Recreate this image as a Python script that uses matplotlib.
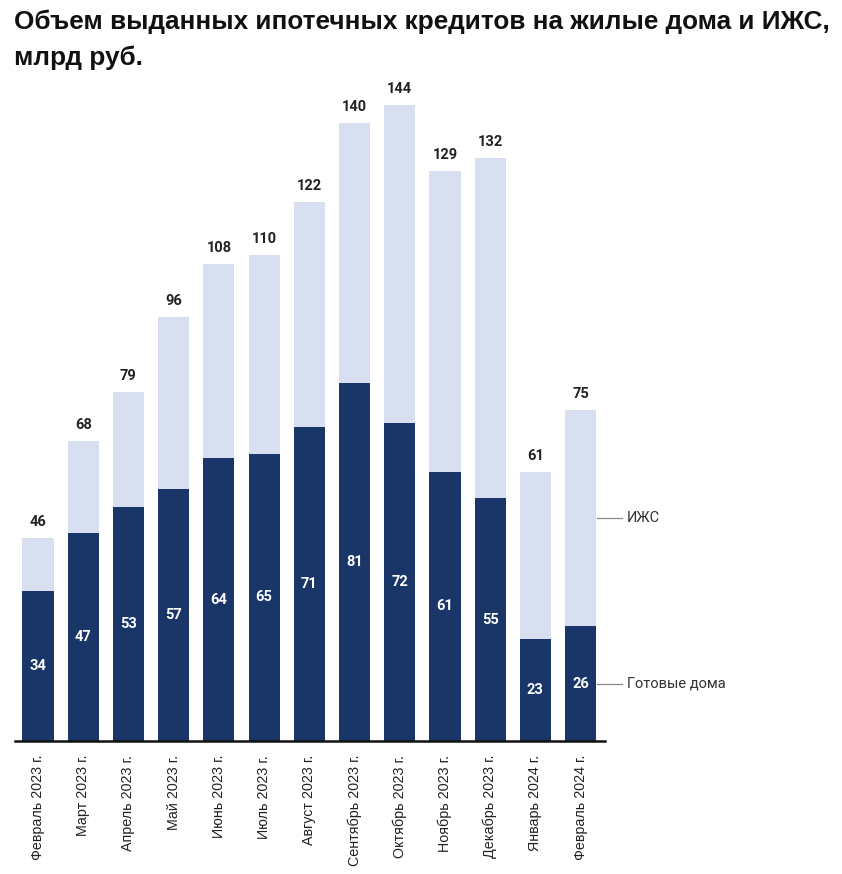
import matplotlib.pyplot as plt

# Data
months = [
    "Февраль 2023 г.", "Март 2023 г.", "Апрель 2023 г.", "Май 2023 г.",
    "Июнь 2023 г.", "Июль 2023 г.", "Август 2023 г.", "Сентябрь 2023 г.",
    "Октябрь 2023 г.", "Ноябрь 2023 г.", "Декабрь 2023 г.", "Январь 2024 г.",
    "Февраль 2024 г.",
]
ready_homes = [34, 47, 53, 57, 64, 65, 71, 81, 72, 61, 55, 23, 26]
totals = [46, 68, 79, 96, 108, 110, 122, 140, 144, 129, 132, 61, 75]
izhs = [t - r for t, r in zip(totals, ready_homes)]
series_names = ["Готовые дома", "ИЖС"]

dark = "#1a3668"
light = "#d8dff0"

W, H = 842, 874
fig = plt.figure(figsize=(W / 100, H / 100), dpi=100)
plt.rcParams['font.family'] = ['Roboto', 'DejaVu Sans']

# axes placed in pixel terms: x from 15 to 605, baseline at 741
ymax = 150
px_per_unit = 636 / 144
ax_top = 741 - ymax * px_per_unit
ax = fig.add_axes([15 / W, (H - 741) / H, 590 / W, (741 - ax_top) / H])

x = list(range(len(months)))
ax.bar(x, ready_homes, width=0.69, color=dark)
ax.bar(x, izhs, bottom=ready_homes, width=0.69, color=light)

ax.set_xlim(-0.51, 12.54)
ax.set_ylim(0, ymax)

for xi, r, t in zip(x, ready_homes, totals):
    ax.text(xi, r / 2, str(r), ha='center', va='center', color='white',
            fontsize=10.5, fontweight='bold')
    ax.text(xi, t + 2.0, str(t), ha='center', va='bottom', color='#222222',
            fontsize=10.5, fontweight='bold')

# series labels next to the last bar
last = len(months) - 1
mids = [ready_homes[last] / 2, ready_homes[last] + izhs[last] / 2]
for name, m in zip(series_names, mids):
    ax.plot([last + 0.37, last + 0.92], [m, m], color='#888888', lw=0.9,
            clip_on=False)
    ax.text(last + 1.03, m, name, ha='left', va='center', color='#333333',
            fontsize=10.5, clip_on=False)

ax.set_xticks(x)
ax.set_xticklabels(months, rotation=90, fontsize=10.3, color='#222222',
                   family=['Liberation Sans', 'DejaVu Sans'])
ax.tick_params(axis='x', length=0, pad=10)
ax.set_yticks([])
for side in ['top', 'right', 'left']:
    ax.spines[side].set_visible(False)
ax.spines['bottom'].set_color('#111111')
ax.spines['bottom'].set_linewidth(1.8)

fig.text(14 / W, 1 - 10 / H,
         "Объем выданных ипотечных кредитов на жилые дома и ИЖС,\nмлрд руб.",
         ha='left', va='top', fontsize=18.8, fontweight='bold',
         family=['Liberation Sans', 'DejaVu Sans'],
         linespacing=1.55, color='#111111')

fig.savefig("out.png", dpi=100)
